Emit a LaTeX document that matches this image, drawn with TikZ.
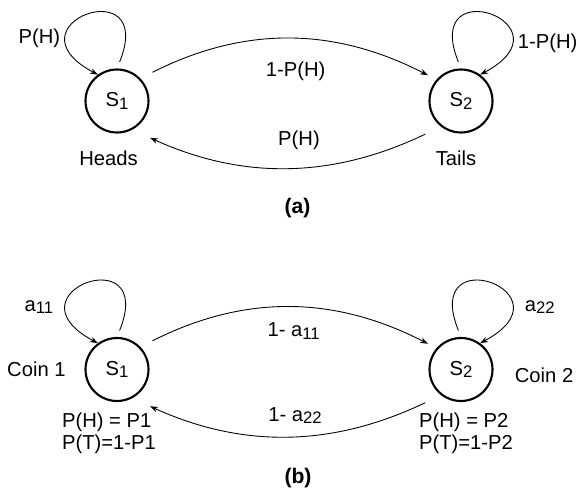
\documentclass[tikz,border=0pt]{standalone}
\usepackage{fontspec}
\setmainfont{Liberation Sans}
\usetikzlibrary{arrows,automata}
\usetikzlibrary{positioning}
\usetikzlibrary{arrows.meta}

% small lowered index, as in S1 or a11
\newcommand{\idx}[1]{\raisebox{-0.2ex}{\fontsize{9.5}{10}\selectfont #1}}

\begin{document}
\begin{tikzpicture}[->,>={Stealth[length=4.5pt,width=3.2pt]},node distance=6.88cm,
			line width=0.5pt,font=\fontsize{11.5}{12}\selectfont]
			\tikzstyle{every state}=[draw,line width=1.2pt,minimum size=1.26cm,inner sep=0pt]
			\tikzstyle{selfloop}=[min distance=2.15cm,shorten <=0.14cm]
			\useasboundingbox (0,0) rectangle (11.7,-9.88);
			
			% (a) one coin
			\node[state]         (S_1) at (2.34,-2.02)    {S\idx{1}};
			\node[state]         (S_2) [right of=S_1]     {S\idx{2}};
			\node (heads) [below=0.22cm of S_1, xshift=-0.17cm] {Heads};
			\node (tails) [below=0.22cm of S_2, xshift=-0.1cm]  {Tails};
			\node (cap_a) at (5.95,-4.16) {\fontsize{12}{14}\selectfont\bfseries (a)};
			
			\path (S_1.90) edge[selfloop,out=68,in=152]  node[left,pos=0.75]  {P(H)}   (S_1.126)
			(S_2.90) edge[selfloop,out=112,in=28]        node[right,pos=0.75,yshift=-0.1cm] {1-P(H)} (S_2.54)
			(S_1.44) edge[bend left=27,shorten <=0.27cm,shorten >=0.19cm]
				node[yshift=-0.64cm,xshift=0.14cm] {1-P(H)} (S_2.139)
			(S_2.232) edge[bend left=25,shorten <=0.35cm,shorten >=0.39cm]
				node[yshift=0.52cm,xshift=0.24cm] {P(H)} (S_1.298)
			;
			
			% (b) two coins
			\node[state]         (C_1) [below of=S_1, node distance=5.37cm] {S\idx{1}};
			\node[state]         (C_2) [right of=C_1]     {S\idx{2}};
			\node (coin_1) [left=0.25cm of C_1]               {Coin 1};
			\node (coin_2) [right=0.3cm of C_2, yshift=-0.11cm] {Coin 2};
			\node (emit_1) [below=0.1cm of C_1, xshift=-0.16cm, align=left] {P(H) = P1\\P(T)=1-P1};
			\node (emit_2) [below=0.1cm of C_2, xshift=0.1cm, align=left] {P(H) = P2\\P(T)=1-P2};
			\node (cap_b) at (5.96,-9.56) {\fontsize{12}{14}\selectfont\bfseries (b)};
			
			\path (C_1.90) edge[selfloop,out=68,in=152]  node[left,pos=0.75,xshift=-0.14cm]  {a\idx{11}} (C_1.126)
			(C_2.90) edge[selfloop,out=112,in=28]        node[right,pos=0.75,xshift=0.14cm] {a\idx{22}} (C_2.54)
			(C_1.44) edge[bend left=27,shorten <=0.27cm,shorten >=0.19cm]
				node[yshift=-0.46cm,xshift=0.1cm] {1- a\idx{11}} (C_2.139)
			(C_2.232) edge[bend left=25,shorten <=0.35cm,shorten >=0.39cm]
				node[yshift=0.39cm,xshift=0.16cm] {1- a\idx{22}} (C_1.298)
			;
\end{tikzpicture}
\end{document}
